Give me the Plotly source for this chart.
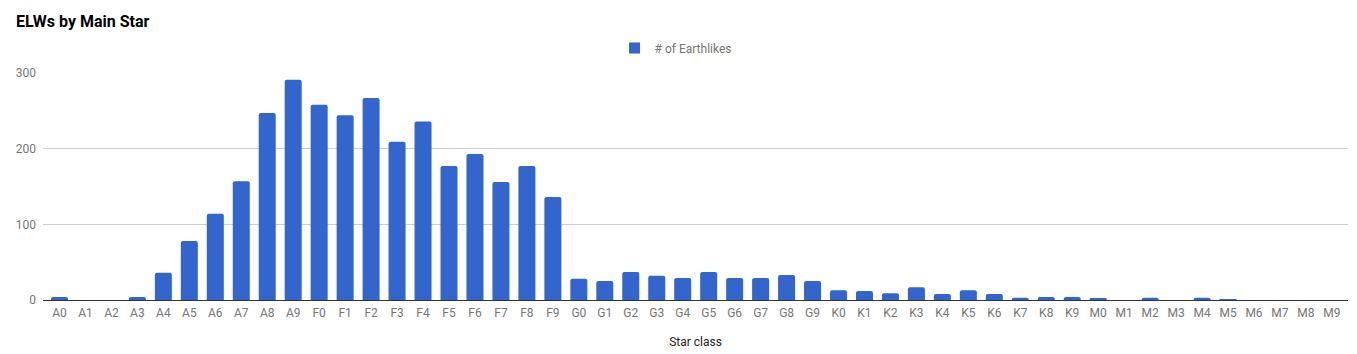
import plotly.graph_objects as go

categories = ["A0","A1","A2","A3","A4","A5","A6","A7","A8","A9",
              "F0","F1","F2","F3","F4","F5","F6","F7","F8","F9",
              "G0","G1","G2","G3","G4","G5","G6","G7","G8","G9",
              "K0","K1","K2","K3","K4","K5","K6","K7","K8","K9",
              "M0","M1","M2","M3","M4","M5","M6","M7","M8","M9"]
earthlikes = [4, 0, 0, 4, 36, 78, 114, 157, 247, 291,
              258, 244, 267, 209, 236, 177, 193, 156, 177, 136,
              28, 25, 37, 32, 29, 37, 29, 29, 33, 25,
              13, 12, 9, 17, 8, 13, 8, 3, 4, 4,
              2, 0, 3, 0, 3, 1, 0, 0, 0, 0]
y_ticks = [0, 100, 200, 300]
series_name = "# of Earthlikes"
bar_color = "#3366CC"

fig = go.Figure()
fig.add_trace(go.Bar(
    x=categories, y=earthlikes, name=series_name, showlegend=False,
    marker=dict(color=bar_color, cornerradius=2, line=dict(width=0)),
))
# legend entry with a sharp square swatch
fig.add_trace(go.Scatter(
    x=[None], y=[None], mode="markers", name=series_name,
    marker=dict(symbol="square", size=11, color=bar_color),
))

fig.update_layout(
    width=1357, height=354,
    margin=dict(l=43, r=9, t=73, b=54),
    paper_bgcolor="white", plot_bgcolor="white",
    font=dict(family="Roboto", size=12, color="#757575"),
    title=dict(text="<b>ELWs by Main Star</b>", x=16/1357, xanchor="left",
               y=1-21/354, yanchor="middle",
               font=dict(family="Roboto", size=16, color="#000000")),
    showlegend=True,
    legend=dict(orientation="h", x=0.4847, xanchor="center", y=1.11, yanchor="middle",
                font=dict(size=12, color="#757575"), itemwidth=30),
    bargap=0.345,
    xaxis=dict(type="category", range=[-0.635, 49.62], showgrid=False,
               showline=False, ticks="", ticklabelstandoff=4,
               tickfont=dict(size=12, color="#757575"),
               title=dict(text="Star class", standoff=18,
                          font=dict(size=12, color="#222222"))),
    yaxis=dict(range=[0, 300], tickvals=y_ticks, showgrid=True, gridcolor="#cccccc",
               gridwidth=1, zeroline=True, zerolinecolor="#333333", zerolinewidth=1,
               showline=False, ticks="", ticklabelstandoff=6,
               tickfont=dict(size=12, color="#757575")),
)

fig.write_html("out.html")
